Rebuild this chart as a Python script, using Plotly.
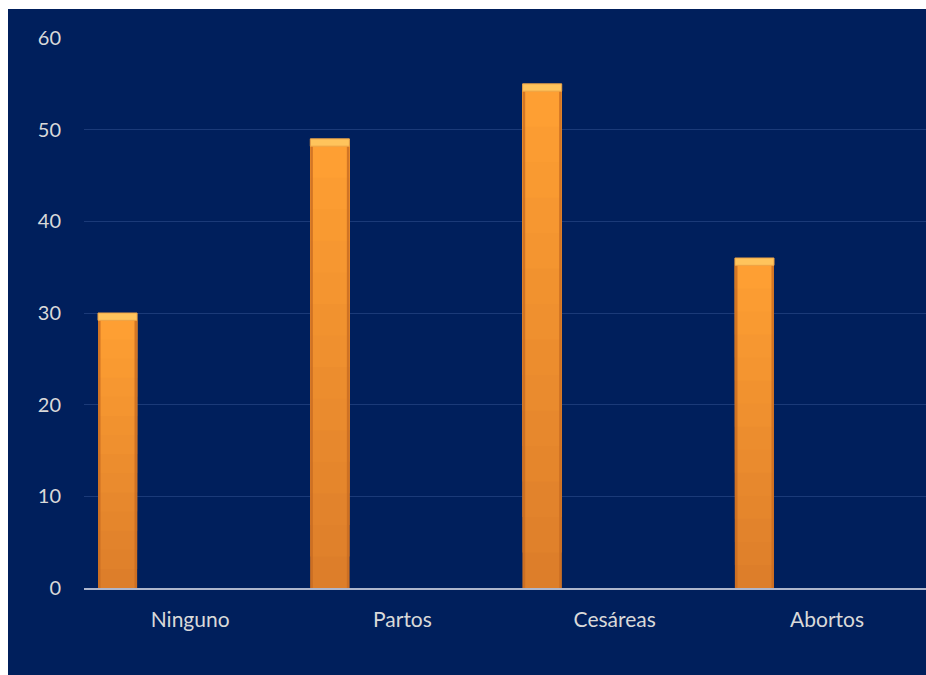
import plotly.graph_objects as go

categories = ["Ninguno", "Partos", "Cesáreas", "Abortos"]
values = [30, 49, 55, 36]
y_ticks = [0, 10, 20, 30, 40, 50, 60]

W, H = 926, 675
ML, MR, MT, MB = 84, 0, 38, 87
PW, PH = W - ML - MR, H - MT - MB

navy = "#001F5C"
txt = "#D9D9D9"

bar_offset = -0.434
bar_width = 0.184
cap = 0.8
edge = 0.012


def mix(c1, c2, t):
    a = [int(c1[i:i + 2], 16) for i in (1, 3, 5)]
    b = [int(c2[i:i + 2], 16) for i in (1, 3, 5)]
    return "#" + "".join(f"{round(a[k] + (b[k] - a[k]) * t):02X}" for k in range(3))


fig = go.Figure()
# vertical gradient body (bottom darker, top lighter); each band runs to the top
n_bands = 14
bottom_col, top_col = "#DC7D2A", "#FFA033"
for i in range(n_bands):
    f0 = i / n_bands
    fig.add_trace(go.Bar(
        x=categories,
        y=[(v - cap) * (1 - f0) for v in values],
        base=[(v - cap) * f0 for v in values],
        offset=bar_offset, width=bar_width,
        marker=dict(color=mix(bottom_col, top_col, (i + 0.5) / n_bands), line=dict(width=0)),
        hoverinfo="skip", showlegend=False,
    ))
# darker side edges
for off in (bar_offset, bar_offset + bar_width - edge):
    fig.add_trace(go.Bar(
        x=categories, y=[v - cap for v in values], offset=off, width=edge,
        marker=dict(color="#C86C22", opacity=0.8, line=dict(width=0)),
        hoverinfo="skip", showlegend=False,
    ))
# top bevel highlight
fig.add_trace(go.Bar(
    x=categories, y=[cap] * len(values), base=[v - cap for v in values],
    offset=bar_offset, width=bar_width,
    marker=dict(color="#FFC45C", line=dict(color="#EDA446", width=1)),
    hovertemplate="%{x}: %{customdata}<extra></extra>", customdata=values,
    showlegend=False,
))

fig.update_layout(
    width=W, height=H,
    margin=dict(l=ML, r=MR, t=MT, b=MB),
    paper_bgcolor=navy, plot_bgcolor=navy,
    barmode="overlay",
    font=dict(family="Lato, Open Sans, sans-serif", size=19, color=txt),
    xaxis=dict(
        range=[-0.5, 3.466],
        showgrid=False, showline=True, linecolor="#AEB6CC", linewidth=2,
        ticks="", ticklabelstandoff=12, tickfont=dict(size=21, color=txt),
    ),
    yaxis=dict(
        range=[0, 60], tickvals=y_ticks, showgrid=True, gridcolor="#1B3A78",
        gridwidth=1, zeroline=False, showline=False, ticks="",
        ticklabelstandoff=22, tickfont=dict(size=20, color=txt),
    ),
    shapes=[
        dict(type="rect", xref="paper", yref="paper",
             x0=(0 - ML) / PW - 0.01, x1=(8 - ML) / PW,
             y0=-0.3, y1=1.3, fillcolor="white", line=dict(width=0), layer="above"),
        dict(type="rect", xref="paper", yref="paper",
             x0=-0.2, x1=1.1,
             y0=(H - MB - 9) / PH, y1=1.3, fillcolor="white", line=dict(width=0), layer="above"),
    ],
)

fig.write_html("out.html")
